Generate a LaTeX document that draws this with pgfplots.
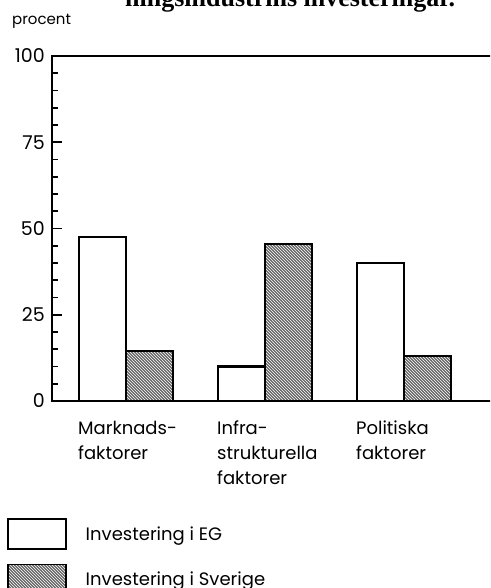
\documentclass[border=0pt]{standalone}
\usepackage{pgfplots}
\pgfplotsset{compat=1.18}
\usepackage{fontspec}
\setmainfont{Poppins}
\newfontfamily\titlefont{Liberation Serif}
\usetikzlibrary{patterns}
\begin{document}
\begin{tikzpicture}
\clip (-52pt,-187pt) rectangle (438pt,401pt);
\node[anchor=base west, inner sep=0pt, font=\titlefont\bfseries\fontsize{26}{30}\selectfont] at (73pt,394pt) {ningsindustrins investeringar.};
\node[anchor=base west, inner sep=0pt, font=\fontsize{15}{18}\selectfont] at (-40pt,376pt) {procent};
\begin{axis}[
  at={(0pt,0pt)}, anchor=south west,
  width=442pt, height=345pt, scale only axis,
  xmin=-0.532, xmax=2.648, ymin=0, ymax=100,
  axis line style={line width=2.2pt},
  ytick={0,25,50,75,100}, minor y tick num=4,
  ytick pos=left,
  tick align=inside,
  major tick length=10pt, minor tick length=6pt,
  y tick style={line width=1.8pt, black},
  yticklabel style={font=\fontsize{19}{20}\selectfont, inner sep=0pt, xshift=-7pt},
  /pgf/number format/assume math mode=true,
  xtick={0,1,2},
  xticklabels={Marknads-\\faktorer, Infra-\\strukturella\\faktorer, Politiska\\faktorer},
  xtick pos=bottom,
  x tick style={draw=none},
  xticklabel style={align=left, anchor=north west, inner sep=0pt, xshift=-48pt, yshift=-10pt, font=\fontsize{18}{25}\selectfont},
  ybar=0pt, bar width=0.338,
  legend style={at={(axis description cs:-0.102,-0.339)}, anchor=north west, draw=none, fill=none, inner sep=0pt,
    font=\fontsize{18}{20}\selectfont, row sep=14pt, legend cell align=left,
    /tikz/every odd column/.append style={column sep=17pt}},
  legend image code/.code={\draw[#1, line width=1.6pt] (0pt,-15pt) rectangle (58pt,15pt);},
]
\addplot[draw=black, line width=2.2pt, fill=white] coordinates {(0,47.5) (1,10) (2,40)};
\addplot[draw=black, line width=2.2pt, fill=black!60, postaction={pattern=north west lines, pattern color=white}] coordinates {(0,14.5) (1,45.5) (2,13)};
\legend{Investering i EG, Investering i Sverige}
\end{axis}
\end{tikzpicture}
\end{document}
